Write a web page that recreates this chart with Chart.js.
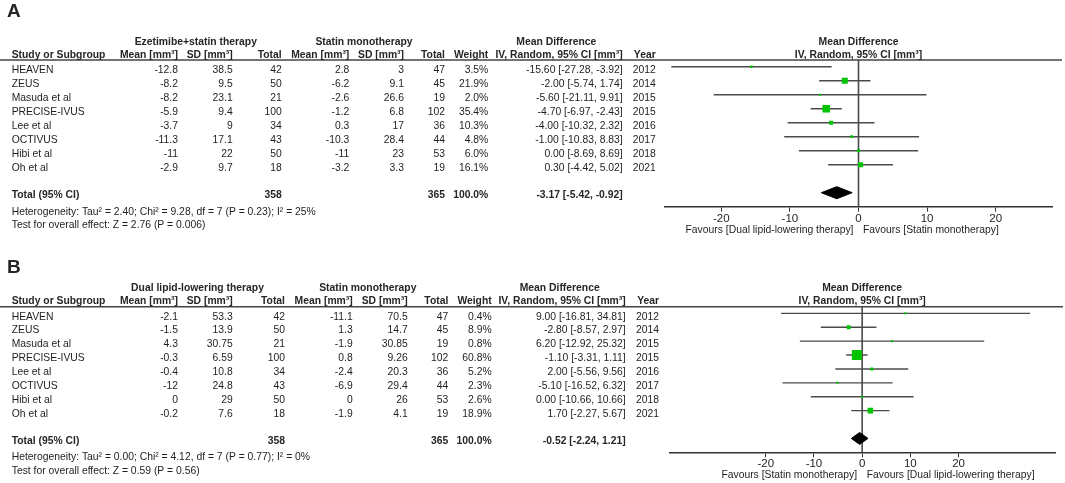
<!DOCTYPE html>
<html><head><meta charset="utf-8">
<script src="https://cdn.jsdelivr.net/npm/chart.js@4.4.1/dist/chart.umd.min.js"></script>
<style>
html,body{margin:0;padding:0;background:#fff;width:1065px;height:483px;overflow:hidden}
canvas{position:absolute;left:0}
#cA{top:0}#cB{top:240px}
</style></head><body>
<canvas id="cA" width="1065" height="240"></canvas>
<canvas id="cB" width="1065" height="243"></canvas>
<script>
// ---------- DATA ----------
const studies = ['HEAVEN','ZEUS','Masuda et al','PRECISE-IVUS','Lee et al','OCTIVUS','Hibi et al','Oh et al'];
const years = [2012,2014,2015,2015,2016,2017,2018,2021];
const tickValues = [-20,-10,0,10,20];

// Panel A
const aExpMean = [-12.8,-8.2,-8.2,-5.9,-3.7,-11.3,-11,-2.9];
const aExpSD = [38.5,9.5,23.1,9.4,9,17.1,22,9.7];
const aExpN = [42,50,21,100,34,43,50,18];
const aCtlMean = [2.8,-6.2,-2.6,-1.2,0.3,-10.3,-11,-3.2];
const aCtlSD = [3,9.1,26.6,6.8,17,28.4,23,3.3];
const aCtlN = [47,45,19,102,36,44,53,19];
const aWeight = [3.5,21.9,2.0,35.4,10.3,4.8,6.0,16.1];
const aMD = [-15.60,-2.00,-5.60,-4.70,-4.00,-1.00,0.00,0.30];
const aLo = [-27.28,-5.74,-21.11,-6.97,-10.32,-10.83,-8.69,-4.42];
const aHi = [-3.92,1.74,9.91,-2.43,2.32,8.83,8.69,5.02];
const aTotal = {expN:358, ctlN:365, md:-3.17, lo:-5.42, hi:-0.92};
const aHet = 'Heterogeneity: Tau\u00b2 = 2.40; Chi\u00b2 = 9.28, df = 7 (P = 0.23); I\u00b2 = 25%';
const aTest = 'Test for overall effect: Z = 2.76 (P = 0.006)';

// Panel B
const bExpMean = [-2.1,-1.5,4.3,-0.3,-0.4,-12,0,-0.2];
const bExpSD = [53.3,13.9,30.75,6.59,10.8,24.8,29,7.6];
const bExpN = [42,50,21,100,34,43,50,18];
const bCtlMean = [-11.1,1.3,-1.9,0.8,-2.4,-6.9,0,-1.9];
const bCtlSD = [70.5,14.7,30.85,9.26,20.3,29.4,26,4.1];
const bCtlN = [47,45,19,102,36,44,53,19];
const bWeight = [0.4,8.9,0.8,60.8,5.2,2.3,2.6,18.9];
const bMD = [9.00,-2.80,6.20,-1.10,2.00,-5.10,0.00,1.70];
const bLo = [-16.81,-8.57,-12.92,-3.31,-5.56,-16.52,-10.66,-2.27];
const bHi = [34.81,2.97,25.32,1.11,9.56,6.32,10.66,5.67];
const bTotal = {expN:358, ctlN:365, md:-0.52, lo:-2.24, hi:1.21};
const bHet = 'Heterogeneity: Tau\u00b2 = 0.00; Chi\u00b2 = 4.12, df = 7 (P = 0.77); I\u00b2 = 0%';
const bTest = 'Test for overall effect: Z = 0.59 (P = 0.56)';

// ---------- PANELS ----------
const panelA = {letter:'A', expGroup:'Ezetimibe+statin therapy', ctlGroup:'Statin monotherapy',
  expMean:aExpMean, expSD:aExpSD, expN:aExpN, ctlMean:aCtlMean, ctlSD:aCtlSD, ctlN:aCtlN,
  weight:aWeight, md:aMD, lo:aLo, hi:aHi, total:aTotal, het:aHet, test:aTest,
  favLeft:'Favours [Dual lipid-lowering therapy]', favRight:'Favours [Statin monotherapy]'};
const panelB = {letter:'B', expGroup:'Dual lipid-lowering therapy', ctlGroup:'Statin monotherapy',
  expMean:bExpMean, expSD:bExpSD, expN:bExpN, ctlMean:bCtlMean, ctlSD:bCtlSD, ctlN:bCtlN,
  weight:bWeight, md:bMD, lo:bLo, hi:bHi, total:bTotal, het:bHet, test:bTest,
  favLeft:'Favours [Statin monotherapy]', favRight:'Favours [Dual lipid-lowering therapy]'};

const layoutA = {H:240, top:60, bottom:206.7, left:665, right:1052, xMin:-28.2, xMax:28.2, ruleEnd:1062, letterY:11.7,
  cols:{name:11.7, eM:178, eSD:232.7, eN:281.7, cM:349.3, cSD:404, cN:445, w:488.3, ci:622.7, yr:655.7},
  groups:{exp:195.8, ctl:364, md:556.3}};
const layoutB = {H:243, top:66.7, bottom:212.3, left:669.3, right:1055, xMin:-40, xMax:40, ruleEnd:1063, letterY:28,
  cols:{name:11.7, eM:178, eSD:232.7, eN:285, cM:352.7, cSD:407.7, cN:448.3, w:491.7, ci:625.7, yr:659},
  groups:{exp:197.5, ctl:367.8, md:559.7}};

const FONT = '"Liberation Sans", Arial, sans-serif';
const FS = 11.5;
const SX = 0.9;
const Y_MIN = -0.48, Y_MAX = 10, TOTAL_ROW = 9, DIAMOND_H = 0.43;

function txt(ctx, s, x, y, align, bold, size, sx){
  ctx.save();
  ctx.font = (bold ? 'bold ' : '') + (size || FS) + 'px ' + FONT;
  ctx.fillStyle = bold ? '#262626' : '#1e1e1e';
  ctx.textAlign = align; ctx.textBaseline = 'middle';
  ctx.translate(x, y); ctx.scale(sx === undefined ? SX : sx, 1);
  ctx.fillText(String(s), 0, 0);
  ctx.restore();
}
const ci = (m,l,h) => m.toFixed(2) + ' [' + l.toFixed(2) + ', ' + h.toFixed(2) + ']';

function tablePlugin(p, L){
  return {id:'forestTable'+p.letter, afterDraw(chart){
    const ctx = chart.ctx, ys = chart.scales.y, xs = chart.scales.x, ca = chart.chartArea, c = L.cols;
    // header rule
    ctx.save(); ctx.strokeStyle = '#444'; ctx.lineWidth = 1.5;
    ctx.beginPath(); ctx.moveTo(0, ca.top); ctx.lineTo(L.ruleEnd, ca.top); ctx.stroke(); ctx.restore();
    // panel letter
    txt(ctx, p.letter, 7, L.letterY, 'left', true, 19, 1);
    const gy = ca.top - 18.5, hy = ca.top - 5.5;
    txt(ctx, p.expGroup, L.groups.exp, gy, 'center', true);
    txt(ctx, p.ctlGroup, L.groups.ctl, gy, 'center', true);
    txt(ctx, 'Mean Difference', L.groups.md, gy, 'center', true);
    const mid = (ca.left + ca.right) / 2;
    txt(ctx, 'Mean Difference', mid, gy, 'center', true);
    txt(ctx, 'IV, Random, 95% CI [mm\u00b3]', mid, hy, 'center', true);
    txt(ctx, 'Study or Subgroup', c.name, hy, 'left', true);
    txt(ctx, 'Mean [mm\u00b3]', c.eM, hy, 'right', true);
    txt(ctx, 'SD [mm\u00b3]', c.eSD, hy, 'right', true);
    txt(ctx, 'Total', c.eN, hy, 'right', true);
    txt(ctx, 'Mean [mm\u00b3]', c.cM, hy, 'right', true);
    txt(ctx, 'SD [mm\u00b3]', c.cSD, hy, 'right', true);
    txt(ctx, 'Total', c.cN, hy, 'right', true);
    txt(ctx, 'Weight', c.w, hy, 'right', true);
    txt(ctx, 'IV, Random, 95% CI [mm\u00b3]', c.ci, hy, 'right', true);
    txt(ctx, 'Year', c.yr, hy, 'right', true);
    studies.forEach((s, i) => {
      const y = ys.getPixelForValue(i) + 3;
      txt(ctx, s, c.name, y, 'left');
      txt(ctx, p.expMean[i], c.eM, y, 'right');
      txt(ctx, p.expSD[i], c.eSD, y, 'right');
      txt(ctx, p.expN[i], c.eN, y, 'right');
      txt(ctx, p.ctlMean[i], c.cM, y, 'right');
      txt(ctx, p.ctlSD[i], c.cSD, y, 'right');
      txt(ctx, p.ctlN[i], c.cN, y, 'right');
      txt(ctx, p.weight[i].toFixed(1) + '%', c.w, y, 'right');
      txt(ctx, ci(p.md[i], p.lo[i], p.hi[i]), c.ci, y, 'right');
      txt(ctx, years[i], c.yr, y, 'right');
    });
    const ty = ys.getPixelForValue(TOTAL_ROW) + 2;
    txt(ctx, 'Total (95% CI)', c.name, ty, 'left', true);
    txt(ctx, p.total.expN, c.eN, ty, 'right', true);
    txt(ctx, p.total.ctlN, c.cN, ty, 'right', true);
    txt(ctx, '100.0%', c.w, ty, 'right', true);
    txt(ctx, ci(p.total.md, p.total.lo, p.total.hi), c.ci, ty, 'right', true);
    txt(ctx, p.het, c.name, ty + 16.8, 'left');
    txt(ctx, p.test, c.name, ty + 30.5, 'left');
    // favours labels
    const x0 = xs.getPixelForValue(0), fy = ca.bottom + 23;
    txt(ctx, p.favLeft, x0 - 5, fy, 'right');
    txt(ctx, p.favRight, x0 + 4.5, fy, 'left');
  }};
}

function build(canvasId, p, L){
  const t = p.total;
  const datasets = [
    {label:'Study', data:p.md.map((v,i)=>({x:v, y:i})), pointStyle:'rect',
     pointRadius: ctx => Math.max(2, 1.28*Math.sqrt(p.weight[ctx.dataIndex])) / Math.SQRT2,
     backgroundColor:'#00c400', borderColor:'#00c400', borderWidth:0, pointBorderWidth:0},
    {label:'Total', data:[{x:t.lo,y:TOTAL_ROW},{x:t.md,y:TOTAL_ROW-DIAMOND_H},{x:t.hi,y:TOTAL_ROW},{x:t.md,y:TOTAL_ROW+DIAMOND_H},{x:t.lo,y:TOTAL_ROW}],
     showLine:true, fill:'shape', backgroundColor:'#000', borderColor:'#000', borderWidth:1, pointRadius:0, tension:0}
  ];
  p.lo.forEach((l,i)=>datasets.push({label:'CI '+studies[i], data:[{x:l,y:i},{x:p.hi[i],y:i}],
     showLine:true, borderColor:'#4a4a4a', borderWidth:1.4, pointRadius:0}));
  datasets.push({label:'zero', data:[{x:0,y:Y_MIN},{x:0,y:Y_MAX}], showLine:true, borderColor:'#4a4a4a', borderWidth:1.6, pointRadius:0});
  return new Chart(document.getElementById(canvasId), {
    type:'scatter',
    data:{datasets},
    plugins:[tablePlugin(p, L)],
    options:{responsive:false, animation:false, events:[], devicePixelRatio:1,
      layout:{padding:{left:L.left, right:1065-L.right, top:L.top, bottom:0}},
      plugins:{legend:{display:false}, tooltip:{enabled:false}},
      scales:{
        x:{type:'linear', min:L.xMin, max:L.xMax,
           afterBuildTicks: s => { s.ticks = tickValues.map(v=>({value:v})); },
           afterFit: s => { s.height = L.H - L.bottom; },
           border:{display:true, color:'#333', width:1.5},
           grid:{drawOnChartArea:false, drawTicks:true, tickLength:5, color:'#333', lineWidth:1},
           ticks:{color:'#1e1e1e', font:{family:FONT, size:11.5}, padding:0, maxRotation:0, autoSkip:false}},
        y:{type:'linear', display:false, reverse:true, min:Y_MIN, max:Y_MAX}
      }}
  });
}
build('cA', panelA, layoutA);
build('cB', panelB, layoutB);
</script>
</body></html>
